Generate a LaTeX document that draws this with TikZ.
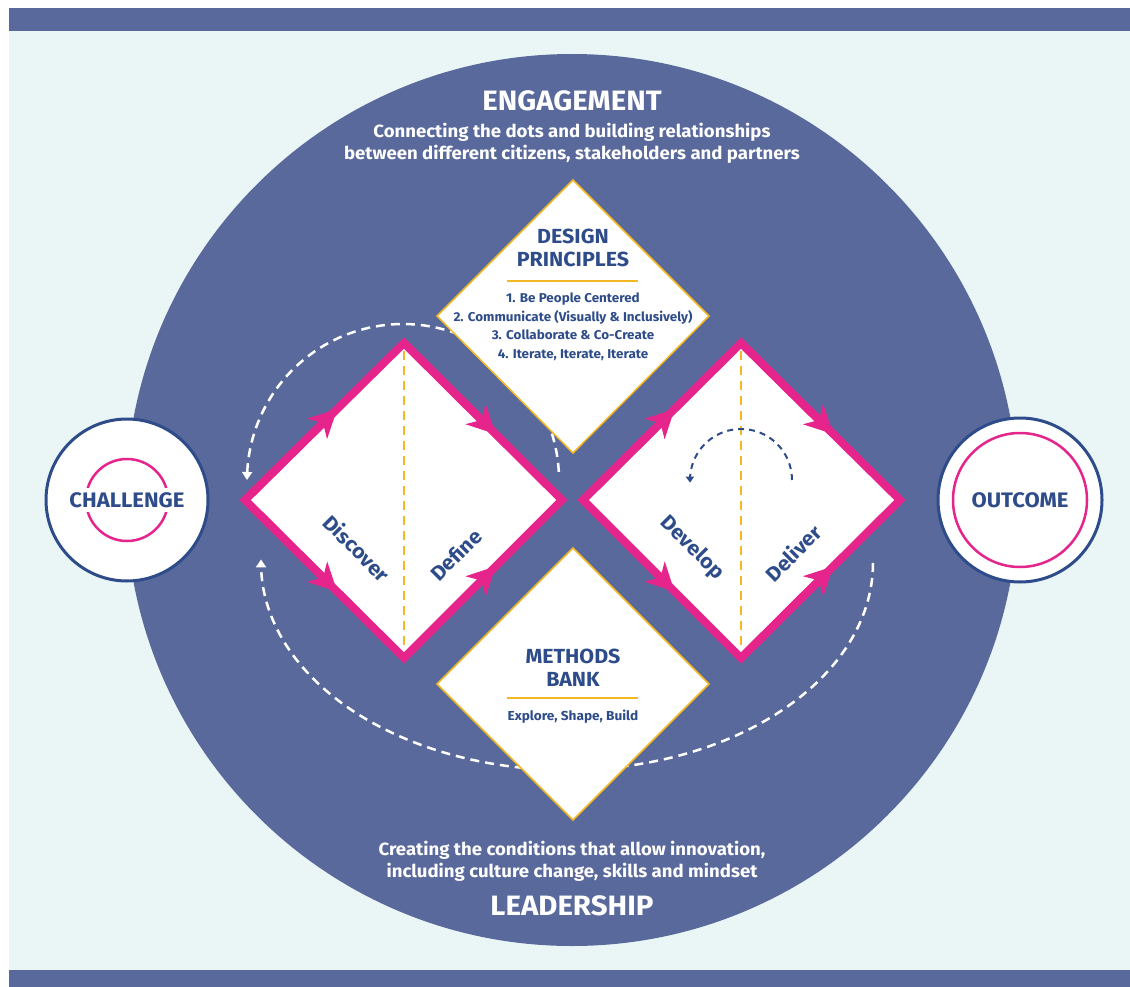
\documentclass[tikz,border=0pt]{standalone}
\usepackage{fontspec}
\setmainfont{Fira Sans}[FakeStretch=1.05]
\usetikzlibrary{arrows.meta,calc}

\definecolor{navy}{HTML}{5A699B}
\definecolor{paleaqua}{HTML}{EAF6F6}
\definecolor{hotpink}{HTML}{E5248C}
\definecolor{inkblue}{HTML}{2E4C89}
\definecolor{gold}{HTML}{F4B823}

\tikzset{
  whitedash/.style={white, line width=2.5pt, dash pattern=on 9pt off 6pt},
  navydash/.style={inkblue, line width=2pt, dash pattern=on 6pt off 5pt},
  golddash/.style={gold, line width=2.5pt, dash pattern=on 9pt off 6pt},
  pinkline/.style={hotpink, line width=8pt, line join=miter},
  pinktip/.style={pinkline, -{Stealth[length=28pt, width=28pt, inset=8pt]}},
  infobox/.style={draw=gold, line width=1.5pt, fill=white, line join=miter},
  bigtitle/.style={text=white, font=\bfseries\fontsize{28}{30}\selectfont},
  subtitle/.style={text=white, font=\bfseries\fontsize{17.7}{22}\selectfont, align=center},
  boxhead/.style={text=inkblue, font=\bfseries\fontsize{20.4}{23.5}\selectfont, align=center},
  boxbody/.style={text=inkblue, font=\bfseries\fontsize{12.8}{18.5}\selectfont, align=center},
  phase/.style={text=inkblue, font=\bfseries\fontsize{20.5}{22}\selectfont},
  endlabel/.style={text=inkblue, font=\bfseries\fontsize{21}{22}\selectfont},
  endcircle/.style={circle, draw=inkblue, line width=3pt, fill=white, inner sep=0pt},
}

\begin{document}
\begin{tikzpicture}[x=1pt, y=-1pt]
\useasboundingbox (0,0) rectangle (1130,987);

% background and bands
\fill[white] (0,0) rectangle (1130,987);
\fill[paleaqua] (9,31) rectangle (1130,970);
\fill[navy] (9,8) rectangle (1130,31);
\fill[navy] (9,970) rectangle (1130,987);

% main disc
\fill[navy] (572,500) circle[radius=446pt];

% headings
\node[bigtitle] (engage) at (572,101) {ENGAGEMENT};
\node[subtitle] (engagetxt) at (572,143) {Connecting the dots and building relationships\\between different citizens, stakeholders and partners};
\node[subtitle] (leadtxt) at (572,861) {Creating the conditions that allow innovation,\\including culture change, skills and mindset};
\node[bigtitle] (lead) at (572,906) {LEADERSHIP};

% iteration loops
\draw[whitedash, -{Triangle[width=10pt, length=8pt]}]
  plot[domain=3:180, samples=90] ({403+156*cos(\x)}, {480-156*sin(\x)});
\draw[whitedash, -{Triangle[width=10pt, length=8pt]}]
  plot[domain=0:181, samples=120] ({567+306*cos(\x)}, {563+207*sin(\x)});

% first diamond: Discover / Define
\coordinate (dL) at (245,500);
\coordinate (dT) at (404,343);
\coordinate (dR) at (562,500);
\coordinate (dB) at (404,658);
\fill[white] (dL) -- (dT) -- (dR) -- (dB) -- cycle;
\draw[golddash] ($(dT)+(0,8)$) -- ($(dB)-(0,8)$);
\draw[pinkline] (dL) -- (dT) -- (dR) -- (dB) -- cycle;
\draw[pinktip] (dL) -- ($(dL)!0.58!(dT)$);
\draw[pinktip] (dT) -- ($(dT)!0.58!(dR)$);
\draw[pinktip] (dL) -- ($(dL)!0.58!(dB)$);
\draw[pinktip] (dB) -- ($(dB)!0.58!(dR)$);
\node[phase, rotate=-45] (discover) at (357,548) {Discover};
\node[phase, rotate=45] (define) at (456,555) {Define};

% second diamond: Develop / Deliver
\coordinate (eL) at (583,500);
\coordinate (eT) at (741,343);
\coordinate (eR) at (900,500);
\coordinate (eB) at (741,658);
\fill[white] (eL) -- (eT) -- (eR) -- (eB) -- cycle;
\draw[golddash] ($(eT)+(0,8)$) -- ($(eB)-(0,8)$);
\draw[pinkline] (eL) -- (eT) -- (eR) -- (eB) -- cycle;
\draw[pinktip] (eL) -- ($(eL)!0.58!(eT)$);
\draw[pinktip] (eT) -- ($(eT)!0.58!(eR)$);
\draw[pinktip] (eL) -- ($(eL)!0.58!(eB)$);
\draw[pinktip] (eB) -- ($(eB)!0.58!(eR)$);
\node[phase, rotate=-45] (develop) at (692,548) {Develop};
\node[phase, rotate=45] (deliver) at (793,553) {Deliver};
\draw[navydash, -{Triangle[width=8pt, length=6pt]}]
  plot[domain=0:183, samples=50] ({741+51*cos(\x)}, {480-51*sin(\x)});

% design principles
\coordinate (pT) at (573,180);
\coordinate (pR) at (709,316);
\coordinate (pB) at (573,453);
\coordinate (pL) at (437,316);
\draw[infobox] (pT) -- (pR) -- (pB) -- (pL) -- cycle;
\node[boxhead] (dphead) at (573,248) {DESIGN\\PRINCIPLES};
\draw[gold, line width=2.5pt] (507,281) -- (638,281);
\node[boxbody] (dpbody) at (573,327) {1. Be People Centered\\2. Communicate (Visually \& Inclusively)\\3. Collaborate \& Co-Create\\4. Iterate, Iterate, Iterate};

% methods bank
\coordinate (mT) at (573,548);
\coordinate (mR) at (709,684);
\coordinate (mB) at (573,820);
\coordinate (mL) at (437,684);
\draw[infobox] (mT) -- (mR) -- (mB) -- (mL) -- cycle;
\node[boxhead] (mbhead) at (573,668) {METHODS\\BANK};
\draw[gold, line width=2.5pt] (507,698) -- (638,698);
\node[boxbody, font=\bfseries\fontsize{13}{18}\selectfont] (mbbody) at (573,717) {Explore, Shape, Build};

% challenge and outcome
\node[endcircle, minimum size=162pt] (chal) at (127,500) {};
\draw[hotpink, line width=2.5pt] (chal.center) circle[radius=41pt];
\node[endlabel, fill=white, inner xsep=1pt, inner ysep=4pt] (challbl) at (chal.center) {CHALLENGE};

\node[endcircle, minimum size=164pt] (outc) at (1020,500) {};
\draw[hotpink, line width=2.5pt] (outc.center) circle[radius=67pt];
\node[endlabel] (outlbl) at (outc.center) {OUTCOME};
\end{tikzpicture}
\end{document}
